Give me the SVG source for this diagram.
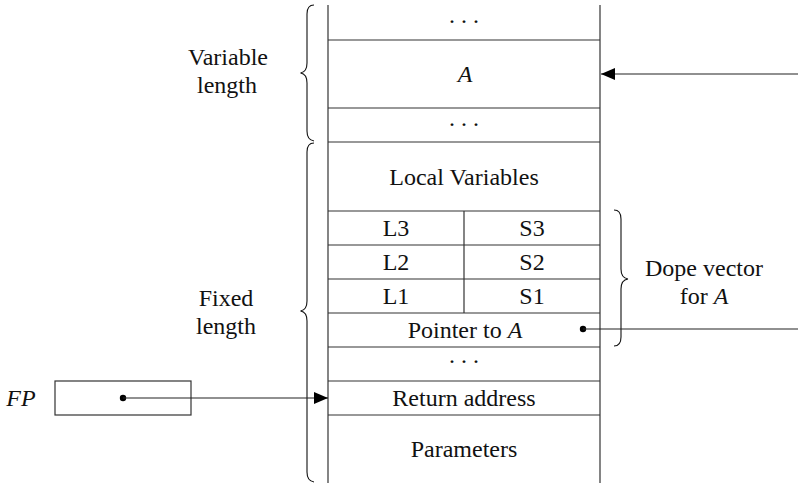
<svg xmlns="http://www.w3.org/2000/svg" width="798" height="483" viewBox="0 0 798 483" font-family="Liberation Serif" font-size="24">
<style>
.ln{stroke:#333;stroke-width:1.2;fill:none}
.br{stroke:#111;stroke-width:1.1;fill:none}
.t{fill:#111;text-anchor:middle}
.i{font-style:italic}
.dots{letter-spacing:4px}
.c{stroke:#222;stroke-width:1.2;fill:none}
</style>
<defs>
<marker id="ah" viewBox="0 0 14 12" refX="14" refY="6" markerWidth="14" markerHeight="12" markerUnits="userSpaceOnUse" orient="auto">
<path d="M0,0 L14,6 L0,12 Z" fill="#000"/>
</marker>
</defs>
<rect width="798" height="483" fill="#fff"/>
<g id="stack">
<line class="ln" x1="328" y1="5" x2="328" y2="483"/>
<line class="ln" x1="600" y1="5" x2="600" y2="483"/>
<line class="ln" x1="328" y1="40" x2="600" y2="40"/>
<line class="ln" x1="328" y1="108" x2="600" y2="108"/>
<line class="ln" x1="328" y1="142" x2="600" y2="142"/>
<line class="ln" x1="328" y1="211" x2="600" y2="211"/>
<line class="ln" x1="328" y1="245" x2="600" y2="245"/>
<line class="ln" x1="328" y1="279" x2="600" y2="279"/>
<line class="ln" x1="328" y1="313" x2="600" y2="313"/>
<line class="ln" x1="328" y1="347" x2="600" y2="347"/>
<line class="ln" x1="328" y1="381" x2="600" y2="381"/>
<line class="ln" x1="328" y1="415" x2="600" y2="415"/>
<line class="ln" x1="464" y1="211" x2="464" y2="313"/>
</g>
<g id="cell-dots-top"><text class="t dots" x="466" y="29">···</text></g>
<g id="cell-A"><text class="t i" x="465" y="82">A</text></g>
<g id="cell-dots-mid"><text class="t dots" x="466" y="132">···</text></g>
<g id="cell-local"><text class="t" x="464" y="185">Local Variables</text></g>
<g id="cell-L3"><text class="t" x="396" y="236">L3</text></g>
<g id="cell-S3"><text class="t" x="532" y="236">S3</text></g>
<g id="cell-L2"><text class="t" x="396" y="270">L2</text></g>
<g id="cell-S2"><text class="t" x="532" y="270">S2</text></g>
<g id="cell-L1"><text class="t" x="396" y="304">L1</text></g>
<g id="cell-S1"><text class="t" x="532" y="304">S1</text></g>
<g id="cell-pointer"><text class="t" x="465" y="338">Pointer to <tspan class="i">A</tspan></text></g>
<g id="cell-dots-low"><text class="t dots" x="466" y="369">···</text></g>
<g id="cell-return"><text class="t" x="464" y="406">Return address</text></g>
<g id="cell-params"><text class="t" x="464" y="457">Parameters</text></g>
<g id="fp">
<text class="t i" x="21" y="406">FP</text>
<rect x="55" y="381" width="136" height="34" fill="none" stroke="#333" stroke-width="1.2"/>
<circle cx="123" cy="398" r="3.2" fill="#000"/>
</g>
<g id="brace-variable">
<path class="br" d="M314,5 Q307,5 307,14 L307,63 Q307,72 300.5,73 Q307,74 307,83 L307,131 Q307,140 314,141"/>
<text class="t" x="228" y="65">Variable</text>
<text class="t" x="227" y="93">length</text>
</g>
<g id="brace-fixed">
<path class="br" d="M314,143 Q307,143 307,152 L307,301 Q307,310 300.5,311 Q307,312 307,321 L307,472 Q307,481 314,482"/>
<text class="t" x="226" y="306">Fixed</text>
<text class="t" x="226" y="334">length</text>
</g>
<g id="brace-dope">
<path class="br" d="M614,210 Q621,210 621,219 L621,269 Q621,278 628,279 Q621,280 621,289 L621,337 Q621,346 614,346"/>
<text class="t" x="704" y="276">Dope vector</text>
<text class="t" x="704" y="304">for <tspan class="i">A</tspan></text>
</g>
<g id="connectors">
<line class="c" x1="798" y1="74" x2="601" y2="74" marker-end="url(#ah)"/>
<circle cx="583" cy="329" r="3.2" fill="#000"/>
<line class="c" x1="583" y1="329" x2="798" y2="329"/>
<line class="c" x1="123" y1="398" x2="328" y2="398" marker-end="url(#ah)"/>
</g>
</svg>
